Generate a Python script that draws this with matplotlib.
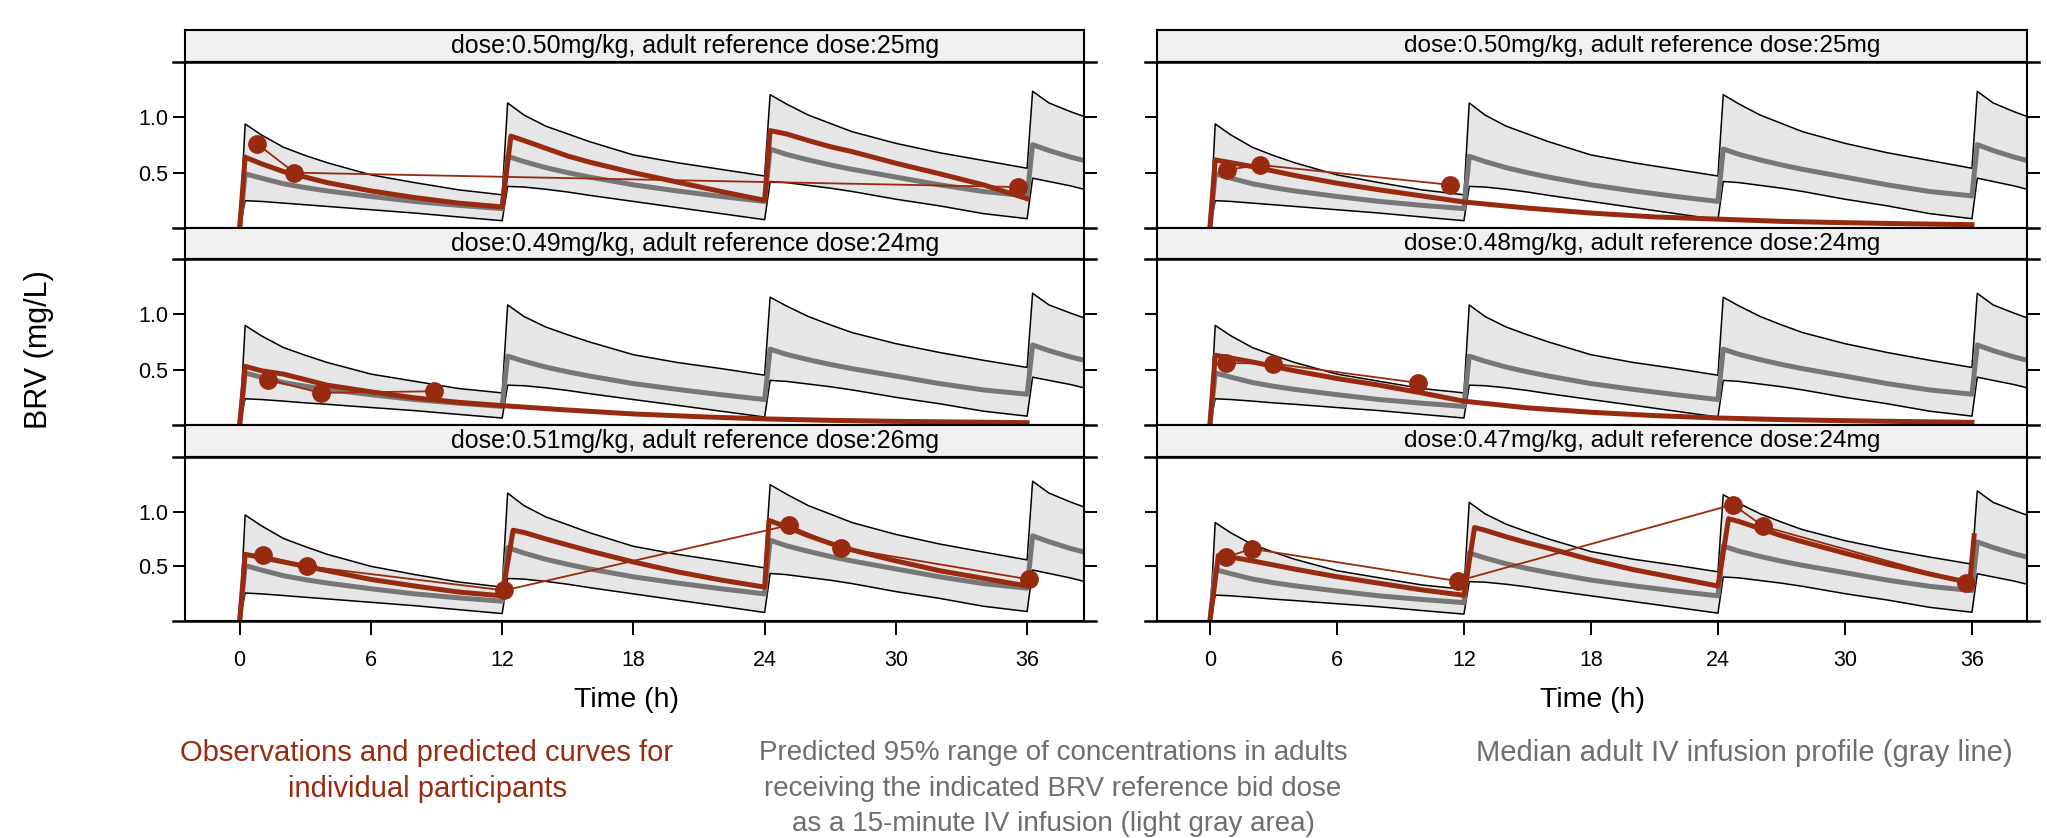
import matplotlib.pyplot as plt

plt.rcParams['font.family'] = ['Liberation Sans', 'DejaVu Sans']

# ---- data ----
# adult reference band (95% range + median), sampled per dosing interval
t_band = [0, 0.25, 1, 2, 3, 4, 6, 8, 10, 12,
          12.25, 13, 14, 15, 16, 18, 20, 22, 24,
          24.25, 25, 26, 27, 28, 30, 32, 34, 36,
          36.25, 37, 38, 39]

upper_25 = [0, 0.94, 0.84, 0.73, 0.655, 0.59, 0.48, 0.41, 0.345, 0.30,
            1.13, 1.02, 0.92, 0.85, 0.78, 0.66, 0.59, 0.53, 0.47,
            1.205, 1.12, 1.02, 0.945, 0.87, 0.765, 0.68, 0.61, 0.54,
            1.235, 1.13, 1.05, 0.98]
lower_25 = [0, 0.247, 0.24, 0.225, 0.21, 0.195, 0.165, 0.135, 0.10, 0.066,
            0.376, 0.37, 0.35, 0.325, 0.295, 0.24, 0.185, 0.13, 0.075,
            0.42, 0.41, 0.385, 0.36, 0.33, 0.26, 0.20, 0.13, 0.084,
            0.45, 0.42, 0.38, 0.33]
median_25 = [0, 0.49, 0.45, 0.40, 0.365, 0.335, 0.285, 0.24, 0.205, 0.175,
             0.648, 0.60, 0.545, 0.50, 0.46, 0.39, 0.335, 0.285, 0.24,
             0.714, 0.665, 0.615, 0.57, 0.53, 0.46, 0.39, 0.33, 0.29,
             0.753, 0.70, 0.64, 0.59]

upper_24 = [0, 0.90, 0.805, 0.70, 0.63, 0.565, 0.46, 0.395, 0.33, 0.29,
            1.085, 0.98, 0.885, 0.815, 0.75, 0.635, 0.565, 0.51, 0.45,
            1.155, 1.075, 0.98, 0.905, 0.835, 0.735, 0.655, 0.585, 0.52,
            1.19, 1.085, 1.01, 0.94]
lower_24 = [0, 0.237, 0.23, 0.216, 0.20, 0.187, 0.158, 0.13, 0.096, 0.063,
            0.36, 0.355, 0.336, 0.312, 0.283, 0.23, 0.178, 0.125, 0.072,
            0.403, 0.394, 0.37, 0.346, 0.317, 0.25, 0.192, 0.125, 0.08,
            0.432, 0.403, 0.365, 0.317]
median_24 = [0, 0.47, 0.432, 0.384, 0.35, 0.322, 0.274, 0.23, 0.197, 0.168,
             0.622, 0.576, 0.523, 0.48, 0.442, 0.374, 0.322, 0.274, 0.23,
             0.685, 0.638, 0.59, 0.547, 0.509, 0.442, 0.374, 0.317, 0.278,
             0.723, 0.672, 0.614, 0.566]

upper_26 = [0, 0.97, 0.87, 0.755, 0.68, 0.61, 0.50, 0.425, 0.357, 0.31,
            1.17, 1.055, 0.952, 0.88, 0.807, 0.683, 0.61, 0.549, 0.486,
            1.247, 1.16, 1.055, 0.978, 0.90, 0.792, 0.704, 0.631, 0.559,
            1.278, 1.17, 1.087, 1.014]
lower_26 = [0, 0.256, 0.248, 0.233, 0.217, 0.202, 0.171, 0.14, 0.104, 0.068,
            0.389, 0.383, 0.362, 0.336, 0.305, 0.248, 0.191, 0.135, 0.078,
            0.435, 0.424, 0.398, 0.373, 0.342, 0.269, 0.207, 0.135, 0.087,
            0.466, 0.435, 0.393, 0.342]
median_26 = [0, 0.507, 0.466, 0.414, 0.378, 0.347, 0.295, 0.248, 0.212, 0.181,
             0.671, 0.621, 0.564, 0.518, 0.476, 0.404, 0.347, 0.295, 0.248,
             0.739, 0.688, 0.637, 0.59, 0.549, 0.476, 0.404, 0.342, 0.30,
             0.779, 0.725, 0.662, 0.611]

bands = {
    24: (upper_24, lower_24, median_24),
    25: (upper_25, lower_25, median_25),
    26: (upper_26, lower_26, median_26),
}

# individual predicted curves (thick red)
pred_t_p1 = [0, 0.25, 1, 2, 3, 4, 6, 8, 10, 12,
             12.4, 13, 14, 15, 16, 18, 20, 22, 24,
             24.25, 25, 26, 27, 28, 30, 32, 34, 36]
pred_v_p1 = [0, 0.64, 0.58, 0.51, 0.46, 0.41, 0.335, 0.275, 0.225, 0.19,
             0.83, 0.79, 0.72, 0.65, 0.595, 0.50, 0.415, 0.33, 0.25,
             0.88, 0.85, 0.79, 0.735, 0.69, 0.585, 0.49, 0.39, 0.265]

pred_t_single = [0, 0.25, 1, 2, 4, 6, 8, 10, 12, 15, 18, 21, 24, 27, 30, 33, 36]
pred_v_p2 = [0, 0.53, 0.49, 0.46, 0.36, 0.30, 0.245, 0.205, 0.175,
             0.135, 0.10, 0.075, 0.055, 0.042, 0.033, 0.027, 0.021]

pred_t_p3 = [0, 0.25, 1, 2, 3, 4, 6, 8, 10, 12,
             12.5, 13, 14, 15, 16, 18, 20, 22, 24,
             24.2, 25, 26, 27, 28, 30, 32, 34, 36]
pred_v_p3 = [0, 0.61, 0.58, 0.54, 0.50, 0.46, 0.38, 0.32, 0.265, 0.23,
             0.83, 0.81, 0.75, 0.695, 0.64, 0.54, 0.45, 0.375, 0.31,
             0.92, 0.86, 0.78, 0.71, 0.65, 0.55, 0.46, 0.39, 0.32]

pred_v_p4 = [0, 0.615, 0.59, 0.555, 0.475, 0.405, 0.345, 0.29, 0.235,
             0.18, 0.135, 0.10, 0.08, 0.06, 0.048, 0.038, 0.03]
pred_v_p5 = [0, 0.63, 0.605, 0.57, 0.49, 0.42, 0.36, 0.29, 0.215,
             0.155, 0.115, 0.085, 0.063, 0.049, 0.039, 0.031, 0.024]

pred_t_p6 = [0, 0.4, 1, 2, 4, 6, 8, 10, 12,
             12.5, 13, 14, 15, 16, 18, 20, 22, 24,
             24.5, 25, 26, 27, 28, 30, 32, 34, 35.9, 36.1]
pred_v_p6 = [0, 0.60, 0.585, 0.55, 0.475, 0.405, 0.345, 0.285, 0.235,
             0.855, 0.83, 0.77, 0.715, 0.665, 0.56, 0.47, 0.395, 0.32,
             0.935, 0.91, 0.845, 0.78, 0.725, 0.62, 0.52, 0.43, 0.35, 0.78]

# observations (dots joined in time order)
obs_t_p1 = [0.8, 2.5, 35.6]
obs_v_p1 = [0.76, 0.50, 0.37]
obs_t_p2 = [1.3, 3.7, 8.9]
obs_v_p2 = [0.41, 0.29, 0.305]
obs_t_p3 = [1.05, 3.1, 12.1, 25.1, 27.5, 36.1]
obs_v_p3 = [0.60, 0.50, 0.28, 0.875, 0.67, 0.38]
obs_t_p4 = [0.8, 2.35, 11.35]
obs_v_p4 = [0.525, 0.57, 0.39]
obs_t_p5 = [0.75, 3.0, 9.85]
obs_v_p5 = [0.56, 0.555, 0.38]
obs_t_p6 = [0.75, 2.0, 11.7, 24.7, 26.15, 35.7]
obs_v_p6 = [0.585, 0.66, 0.365, 1.065, 0.865, 0.35]

strip_labels = [
    'dose:0.50mg/kg, adult reference dose:25mg',
    'dose:0.49mg/kg, adult reference dose:24mg',
    'dose:0.51mg/kg, adult reference dose:26mg',
    'dose:0.50mg/kg, adult reference dose:25mg',
    'dose:0.48mg/kg, adult reference dose:24mg',
    'dose:0.47mg/kg, adult reference dose:24mg',
]
ref_doses = [25, 24, 26, 25, 24, 24]
preds = [(pred_t_p1, pred_v_p1), (pred_t_single, pred_v_p2), (pred_t_p3, pred_v_p3),
         (pred_t_single, pred_v_p4), (pred_t_single, pred_v_p5), (pred_t_p6, pred_v_p6)]
obs = [(obs_t_p1, obs_v_p1), (obs_t_p2, obs_v_p2), (obs_t_p3, obs_v_p3),
       (obs_t_p4, obs_v_p4), (obs_t_p5, obs_v_p5), (obs_t_p6, obs_v_p6)]
x_ticks = [0, 6, 12, 18, 24, 30, 36]
y_ticks = [0.5, 1.0]

# ---- styling / layout ----
RED = '#982A10'
GRAY = '#777777'
BAND = '#E6E6E6'
STRIP = '#F0F0F0'
TXT_GRAY = '#6E6E6E'

W, H = 2047, 838
fig = plt.figure(figsize=(W / 100, H / 100), dpi=100)


def px_axes(x0, y0, x1, y1):
    return fig.add_axes([x0 / W, 1 - y1 / H, (x1 - x0) / W, (y1 - y0) / H])


cols = [(185, 1084), (1157, 2027)]
strip_rows = [(30, 62), (228, 259), (425, 457)]
panel_rows = [(62, 228), (259, 425), (457, 621)]
strip_text_x = [695, 1642]
strip_font = [18, 17.6]

for c, (x0, x1) in enumerate(cols):
    for r in range(3):
        i = c * 3 + r
        # strip
        sax = px_axes(x0, strip_rows[r][0], x1, strip_rows[r][1])
        sax.set_facecolor(STRIP)
        sax.set_xticks([])
        sax.set_yticks([])
        for s in sax.spines.values():
            s.set_linewidth(1.5)
        sy = (strip_rows[r][0] + strip_rows[r][1]) / 2
        fig.text(strip_text_x[c] / W, 1 - sy / H, strip_labels[i],
                 ha='center', va='center', fontsize=strip_font[c])

        # panel
        ax = px_axes(x0, panel_rows[r][0], x1, panel_rows[r][1])
        up, lo, med = bands[ref_doses[i]]
        ax.fill_between(t_band, lo, up, color=BAND, lw=0)
        ax.plot(t_band, up, color='black', lw=1.1)
        ax.plot(t_band, lo, color='black', lw=1.1)
        ax.plot(t_band, med, color=GRAY, lw=3.6)
        pt, pv = preds[i]
        ax.plot(pt, pv, color=RED, lw=3.6)
        ot, ov = obs[i]
        ax.plot(ot, ov, color=RED, lw=1.3, marker='o', ms=12.5, mec=RED, mfc=RED)

        ax.set_xlim(-2.5, 38.6)
        ax.set_ylim(0, 1.5)
        ax.set_yticks(y_ticks)
        ax.set_yticklabels(['0.5', '1.0'])
        ax.tick_params(axis='y', direction='out', length=9, width=1.4,
                       left=True, right=True, labelleft=(c == 0),
                       labelsize=15.5, pad=3)
        if r == 2:
            ax.set_xticks(x_ticks)
            ax.tick_params(axis='x', direction='out', length=10, width=1.4,
                           labelsize=15.5, pad=11)
        else:
            ax.set_xticks([])
        for s in ax.spines.values():
            s.set_linewidth(1.5)
        ext = 12 / (x1 - x0)
        for yy in (0, 1):
            ax.plot([-ext, 1 + ext], [yy, yy], transform=ax.transAxes,
                    clip_on=False, color='black', lw=1.8)

# axis titles
fig.text(39 / W, 1 - 350 / H, 'BRV (mg/L)', rotation=90, fontsize=22,
         ha='center', va='center')
fig.text(627 / W, 1 - 700 / H, 'Time (h)', fontsize=20.5, ha='center', va='center')
fig.text(1593 / W, 1 - 700 / H, 'Time (h)', fontsize=20.5, ha='center', va='center')

# legend notes
fig.text(427 / W, 1 - 753 / H, 'Observations and predicted curves for',
         color=RED, fontsize=21, ha='center', va='center')
fig.text(427 / W, 1 - 789 / H, 'individual participants',
         color=RED, fontsize=21, ha='center', va='center')
mid_lines = ['Predicted 95% range of concentrations in adults',
             'receiving the indicated BRV reference bid dose',
             'as a 15-minute IV infusion (light gray area)']
for k, line in enumerate(mid_lines):
    fig.text(1053 / W, 1 - (753 + 35.5 * k) / H, line, color=TXT_GRAY,
             fontsize=20, ha='center', va='center')
fig.text(1744 / W, 1 - 753 / H, 'Median adult IV infusion profile (gray line)',
         color=TXT_GRAY, fontsize=21, ha='center', va='center')

fig.savefig('out.png', dpi=100)
